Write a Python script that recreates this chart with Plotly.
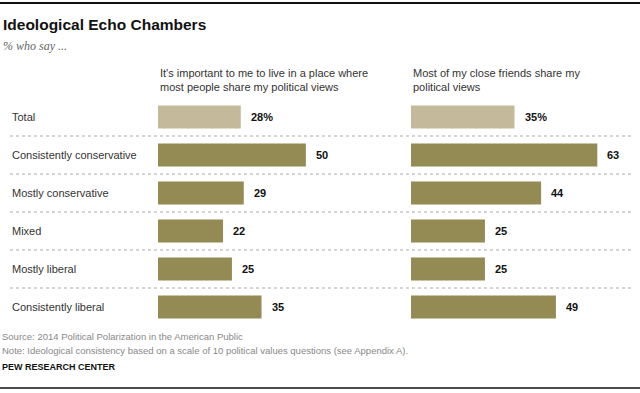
import plotly.graph_objects as go

categories = ["Total", "Consistently conservative", "Mostly conservative",
              "Mixed", "Mostly liberal", "Consistently liberal"]
live_place = [28, 50, 29, 22, 25, 35]
close_friends = [35, 63, 44, 25, 25, 49]
value_labels_left = ["28%", "50", "29", "22", "25", "35"]
value_labels_right = ["35%", "63", "44", "25", "25", "49"]
header_left = "It's important to me to live in a place where<br>most people share my political views"
header_right = "Most of my close friends share my<br>political views"

W, H = 640, 393
LIGHT = "#c4b99a"
DARK = "#948a54"
colors = [LIGHT] + [DARK] * (len(categories) - 1)
BASE = "Liberation Sans, Arial, sans-serif"

fig = go.Figure()
fig.add_trace(go.Bar(x=live_place, y=categories, orientation="h",
                     marker=dict(color=colors, line=dict(width=0)),
                     width=0.6, xaxis="x", yaxis="y", hoverinfo="skip"))
fig.add_trace(go.Bar(x=close_friends, y=categories, orientation="h",
                     marker=dict(color=colors, line=dict(width=0)),
                     width=0.6, xaxis="x2", yaxis="y", hoverinfo="skip"))

scale_max = 70
left_x0, right_x0, span = 158, 411, 207
top_px, bot_px = 98, 326

fig.update_layout(
    width=W, height=H, margin=dict(l=0, r=0, t=0, b=0),
    paper_bgcolor="white", plot_bgcolor="white", showlegend=False,
    bargap=0.4, hovermode=False,
    xaxis=dict(domain=[left_x0 / W, (left_x0 + span) / W], range=[0, scale_max],
               visible=False, fixedrange=True),
    xaxis2=dict(domain=[right_x0 / W, (right_x0 + span) / W], range=[0, scale_max],
                visible=False, fixedrange=True),
    yaxis=dict(domain=[1 - bot_px / H, 1 - top_px / H], type="category",
               autorange="reversed", visible=False, fixedrange=True),
    font=dict(family=BASE, size=11, color="#333"),
)

ann = []
for i, cat in enumerate(categories):
    ann.append(dict(xref="paper", yref="y", x=10 / W, y=cat, text=cat,
                    xanchor="left", yanchor="middle", showarrow=False,
                    font=dict(size=11, color="#333")))
    ann.append(dict(xref="x", yref="y", x=live_place[i], y=cat,
                    text="<b>%s</b>" % value_labels_left[i], xanchor="left",
                    yanchor="middle", xshift=8, showarrow=False,
                    font=dict(size=11, color="#111")))
    ann.append(dict(xref="x2", yref="y", x=close_friends[i], y=cat,
                    text="<b>%s</b>" % value_labels_right[i], xanchor="left",
                    yanchor="middle", xshift=8, showarrow=False,
                    font=dict(size=11, color="#111")))

ann += [
    dict(xref="paper", yref="paper", x=1 / W, y=1 - 25 / H, text="<b>Ideological Echo Chambers</b>",
         xanchor="left", yanchor="middle", showarrow=False,
         font=dict(size=15.5, color="#111", family=BASE)),
    dict(xref="paper", yref="paper", x=1 / W, y=1 - 46 / H, text="<i>% who say ...</i>",
         xanchor="left", yanchor="middle", showarrow=False,
         font=dict(size=12, color="#666", family="Liberation Serif, Georgia, serif")),
    dict(xref="paper", yref="paper", x=left_x0 / W, y=1 - 65 / H, text=header_left,
         xanchor="left", yanchor="top", align="left", showarrow=False,
         font=dict(size=11, color="#333")),
    dict(xref="paper", yref="paper", x=right_x0 / W, y=1 - 65 / H, text=header_right,
         xanchor="left", yanchor="top", align="left", showarrow=False,
         font=dict(size=11, color="#333")),
    dict(xref="paper", yref="paper", x=0, y=1 - 336 / H,
         text="Source: 2014 Political Polarization in the American Public",
         xanchor="left", yanchor="middle", showarrow=False,
         font=dict(size=9.5, color="#888", family=BASE)),
    dict(xref="paper", yref="paper", x=0, y=1 - 350 / H,
         text="Note: Ideological consistency based on a scale of 10 political values questions (see Appendix A).",
         xanchor="left", yanchor="middle", showarrow=False,
         font=dict(size=9.5, color="#888", family=BASE)),
    dict(xref="paper", yref="paper", x=0, y=1 - 367 / H,
         text="<b>PEW RESEARCH CENTER</b>", xanchor="left", yanchor="middle", showarrow=False,
         font=dict(size=9, color="#111", family=BASE)),
]

shapes = [
    dict(type="line", xref="paper", yref="paper", x0=0, x1=1, y0=1 - 3 / H, y1=1 - 3 / H,
         line=dict(color="#111", width=2)),
    dict(type="line", xref="paper", yref="paper", x0=0, x1=1, y0=1 - 388 / H, y1=1 - 388 / H,
         line=dict(color="#111", width=1.5)),
]
for i in range(len(categories) - 1):
    shapes.append(dict(type="line", xref="paper", yref="y", x0=10 / W, x1=632 / W,
                       y0=i + 0.5, y1=i + 0.5,
                       line=dict(color="#aaa", width=1, dash="dot")))

fig.update_layout(annotations=ann, shapes=shapes)
fig.write_html("out.html", config={"displayModeBar": False, "staticPlot": True},
               post_script="document.body.style.margin='0';document.body.style.overflow='hidden';")
